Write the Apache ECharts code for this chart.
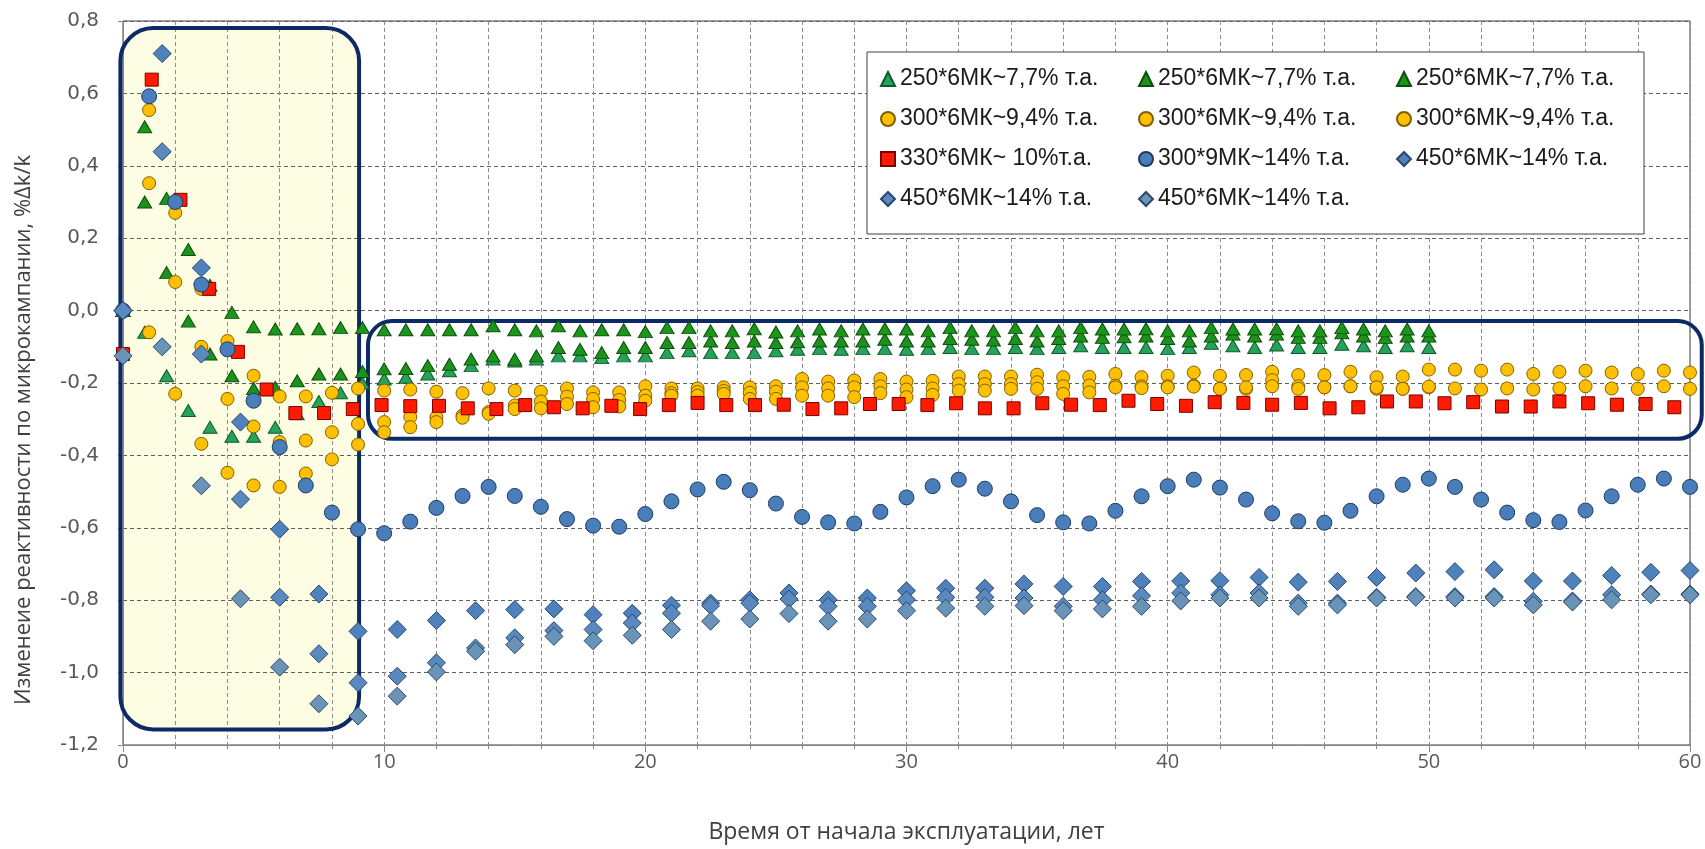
<!DOCTYPE html>
<html>
<head>
<meta charset="utf-8">
<script src="https://cdn.jsdelivr.net/npm/echarts/dist/echarts.min.js"></script>
<style>
html, body { margin: 0; padding: 0; background: #fff; }
#chart { width: 1705px; height: 849px; }
</style>
</head>
<body>
<div id="chart"></div>
<script>
// годы (ось X) для каждой группы точек
var greenYears = [0, 0.83, 1.67, 2.5, 3.33, 4.17, 5, 5.83, 6.67, 7.5, 8.33, 9.17, 10, 10.83, 11.67, 12.5, 13.33, 14.17, 15, 15.83,
	16.67, 17.5, 18.33, 19.17, 20, 20.83, 21.67, 22.5, 23.33, 24.17, 25, 25.83, 26.67, 27.5, 28.33, 29.17, 30, 30.83, 31.67, 32.5,
	33.33, 34.17, 35, 35.83, 36.67, 37.5, 38.33, 39.17, 40, 40.83, 41.67, 42.5, 43.33, 44.17, 45, 45.83, 46.67, 47.5, 48.33, 49.17, 50];
var circleYears = [0, 1, 2, 3, 4, 5, 6, 7, 8, 9, 10, 11, 12, 13, 14, 15, 16, 17, 18, 19, 20, 21, 22, 23, 24, 25, 26, 27, 28, 29, 30,
	31, 32, 33, 34, 35, 36, 37, 38, 39, 40, 41, 42, 43, 44, 45, 46, 47, 48, 49, 50, 51, 52, 53, 54, 55, 56, 57, 58, 59, 60];
var redYears = [0, 1.1, 2.2, 3.3, 4.4, 5.5, 6.6, 7.7, 8.8, 9.9, 11, 12.1, 13.2, 14.3, 15.4, 16.5, 17.6, 18.7, 19.8, 20.9, 22, 23.1,
	24.2, 25.3, 26.4, 27.5, 28.6, 29.7, 30.8, 31.9, 33, 34.1, 35.2, 36.3, 37.4, 38.5, 39.6, 40.7, 41.8, 42.9, 44, 45.1, 46.2, 47.3,
	48.4, 49.5, 50.6, 51.7, 52.8, 53.9, 55, 56.1, 57.2, 58.3, 59.4];
var diamondYears = [0, 1.5, 3, 4.5, 6, 7.5, 9, 10.5, 12, 13.5, 15, 16.5, 18, 19.5, 21, 22.5, 24, 25.5, 27, 28.5, 30, 31.5, 33,
	34.5, 36, 37.5, 39, 40.5, 42, 43.5, 45, 46.5, 48, 49.5, 51, 52.5, 54, 55.5, 57, 58.5, 60];

// 250*6МК~7,7% т.а.
var green1 = [0, -0.06, -0.18, -0.276, -0.322, -0.347, -0.347, -0.322, -0.285, -0.251, -0.227, -0.2, -0.189, -0.184, -0.175, -0.166,
	-0.152, -0.134, -0.139, -0.134, -0.125, -0.125, -0.13, -0.125, -0.125, -0.116, -0.111, -0.116, -0.116, -0.116, -0.111,
	-0.107, -0.105, -0.107, -0.105, -0.105, -0.107, -0.105, -0.102, -0.105, -0.105, -0.102, -0.105, -0.102, -0.097, -0.102,
	-0.102, -0.102, -0.105, -0.102, -0.09, -0.097, -0.102, -0.095, -0.102, -0.102, -0.093, -0.097, -0.102, -0.097, -0.102];
var green2 = [0, 0.508, 0.31, 0.169, 0.07, -0.005, -0.045, -0.051, -0.05, -0.05, -0.047, -0.047, -0.053, -0.053, -0.053, -0.053,
	-0.053, -0.042, -0.053, -0.056, -0.042, -0.056, -0.053, -0.053, -0.058, -0.047, -0.047, -0.056, -0.056, -0.05, -0.059,
	-0.056, -0.051, -0.056, -0.051, -0.05, -0.051, -0.056, -0.047, -0.056, -0.056, -0.047, -0.056, -0.056, -0.047, -0.051,
	-0.051, -0.05, -0.056, -0.056, -0.047, -0.051, -0.051, -0.05, -0.056, -0.056, -0.047, -0.051, -0.056, -0.051, -0.056];
var green3 = [0, 0.3, 0.105, -0.029, -0.12, -0.18, -0.215, -0.212, -0.194, -0.175, -0.175, -0.168, -0.161, -0.16, -0.152, -0.148,
	-0.134, -0.125, -0.134, -0.125, -0.102, -0.107, -0.116, -0.102, -0.102, -0.088, -0.088, -0.084, -0.088, -0.084, -0.088,
	-0.086, -0.084, -0.084, -0.084, -0.079, -0.084, -0.084, -0.077, -0.079, -0.081, -0.077, -0.084, -0.077, -0.07, -0.074,
	-0.072, -0.07, -0.077, -0.084, -0.07, -0.065, -0.07, -0.065, -0.074, -0.074, -0.061, -0.07, -0.074, -0.07, -0.07];

// 300*6МК~9,4% т.а.
var yellow1 = [0, 0.554, 0.27, 0.06, -0.084, -0.18, -0.237, -0.237, -0.227, -0.215, -0.221, -0.218, -0.224, -0.228, -0.215, -0.221,
	-0.224, -0.215, -0.226, -0.226, -0.209, -0.215, -0.215, -0.212, -0.212, -0.209, -0.189, -0.196, -0.193, -0.189, -0.196,
	-0.194, -0.182, -0.182, -0.182, -0.177, -0.184, -0.183, -0.175, -0.184, -0.18, -0.171, -0.18, -0.178, -0.169, -0.178,
	-0.178, -0.169, -0.184, -0.182, -0.163, -0.163, -0.166, -0.163, -0.175, -0.169, -0.166, -0.171, -0.175, -0.166, -0.171];
var yellow2 = [0, 0.352, 0.079, -0.1, -0.244, -0.32, -0.363, -0.359, -0.336, -0.313, -0.308, -0.294, -0.294, -0.29, -0.28, -0.262,
	-0.251, -0.238, -0.244, -0.247, -0.235, -0.228, -0.225, -0.222, -0.227, -0.224, -0.212, -0.215, -0.212, -0.209, -0.218,
	-0.215, -0.203, -0.203, -0.203, -0.198, -0.209, -0.207, -0.207, -0.209, -0.209, -0.207, -0.216, -0.216, -0.192, -0.209,
	-0.212, -0.209, -0.216, -0.216, -0.212, -0.215, -0.218, -0.215, -0.218, -0.215, -0.209, -0.215, -0.216, -0.209, -0.216];
var yellow3 = [0, -0.06, -0.23, -0.368, -0.448, -0.483, -0.487, -0.45, -0.411, -0.37, -0.336, -0.322, -0.308, -0.296, -0.285,
	-0.272, -0.27, -0.258, -0.267, -0.265, -0.249, -0.235, -0.235, -0.23, -0.244, -0.244, -0.235, -0.235, -0.239, -0.228,
	-0.239, -0.233, -0.221, -0.221, -0.216, -0.216, -0.23, -0.226, -0.212, -0.214, -0.212, -0.21, -0.216, -0.212, -0.209,
	-0.216, -0.212, -0.209, -0.212, -0.216, -0.21];

// 330*6МК~ 10%т.а.
var red1 = [-0.12, 0.638, 0.306, 0.06, -0.114, -0.218, -0.283, -0.283, -0.272, -0.261, -0.264, -0.263, -0.27, -0.272, -0.261,
	-0.267, -0.27, -0.263, -0.272, -0.261, -0.255, -0.261, -0.261, -0.26, -0.272, -0.27, -0.258, -0.258, -0.261, -0.256,
	-0.27, -0.27, -0.256, -0.26, -0.261, -0.249, -0.258, -0.263, -0.253, -0.255, -0.26, -0.255, -0.27, -0.267, -0.251,
	-0.251, -0.256, -0.253, -0.265, -0.265, -0.251, -0.256, -0.26, -0.258, -0.267];

// 300*9МК~14% т.а.
var blue1 = [0, 0.592, 0.3, 0.072, -0.107, -0.249, -0.377, -0.483, -0.558, -0.604, -0.615, -0.583, -0.545, -0.512, -0.487,
	-0.512, -0.542, -0.576, -0.594, -0.597, -0.562, -0.527, -0.494, -0.473, -0.496, -0.533, -0.57, -0.585, -0.588, -0.556,
	-0.516, -0.485, -0.467, -0.492, -0.527, -0.565, -0.585, -0.588, -0.553, -0.513, -0.485, -0.467, -0.489, -0.522, -0.56,
	-0.582, -0.586, -0.553, -0.513, -0.481, -0.464, -0.487, -0.522, -0.558, -0.579, -0.584, -0.552, -0.513, -0.481, -0.464, -0.487];

// 450*6МК~14% т.а.
var diamond1 = [0, 0.71, 0.118, -0.308, -0.604, -0.783, -0.886, -0.881, -0.856, -0.829, -0.826, -0.824, -0.84, -0.836, -0.814,
	-0.808, -0.799, -0.78, -0.799, -0.794, -0.774, -0.767, -0.767, -0.755, -0.762, -0.762, -0.748, -0.747, -0.746, -0.737,
	-0.75, -0.748, -0.737, -0.725, -0.721, -0.716, -0.747, -0.747, -0.732, -0.723, -0.718];
var diamond2 = [0, 0.439, -0.12, -0.521, -0.792, -0.948, -1.028, -1.01, -0.973, -0.932, -0.904, -0.884, -0.881, -0.863, -0.836,
	-0.815, -0.808, -0.797, -0.817, -0.817, -0.799, -0.792, -0.792, -0.794, -0.817, -0.799, -0.788, -0.78, -0.785, -0.78,
	-0.808, -0.808, -0.792, -0.79, -0.79, -0.79, -0.803, -0.802, -0.785, -0.783, -0.783];
var diamond3 = [-0.125, -0.1, -0.484, -0.796, -0.985, -1.086, -1.12, -1.065, -0.998, -0.941, -0.923, -0.9, -0.912, -0.897, -0.881,
	-0.858, -0.852, -0.837, -0.858, -0.852, -0.829, -0.822, -0.817, -0.815, -0.829, -0.824, -0.817, -0.802, -0.794, -0.794,
	-0.817, -0.813, -0.794, -0.792, -0.794, -0.794, -0.813, -0.805, -0.799, -0.785, -0.785];

// выделенные области (в координатах графика): [x1, x2, yTop, yBottom]
var leftBox = [-0.1, 9.04, 0.781, -1.157];
var rightBox = [9.38, 60.45, -0.029, -0.354];

function pairs(xs, ys) {
	var out = [];
	for (var i = 0; i < ys.length; i++) {
		out.push([xs[i], ys[i]]);
	}
	return out;
}

function scatter(name, xs, ys, symbol, size, fill, border) {
	return {
		name: name,
		type: 'scatter',
		symbol: symbol,
		symbolSize: size,
		data: pairs(xs, ys),
		itemStyle: {
			color: fill,
			borderColor: border,
			borderWidth: 1,
			opacity: 1
		},
		emphasis: { disabled: true }
	};
}

var chart = echarts.init(document.getElementById('chart'));

var option = {
	animation: false,
	grid: {
		left: 123,
		right: 15,
		top: 21,
		bottom: 102,
		show: true,
		borderColor: '#404040',
		borderWidth: 1
	},
	legend: {
		left: 867,
		top: 52,
		width: 780,
		orient: 'horizontal',
		padding: [12, 0, 20, 13],
		itemGap: 10,
		itemWidth: 14,
		itemHeight: 14,
		backgroundColor: '#ffffff',
		borderColor: '#404040',
		borderWidth: 1,
		selectedMode: false,
		textStyle: {
			fontFamily: 'Liberation Sans',
			fontSize: 23,
			color: '#1a1a1a',
			width: 228,
			lineHeight: 30
		}
	},
	xAxis: {
		type: 'value',
		min: 0,
		max: 60,
		interval: 10,
		name: 'Время от начала эксплуатации, лет',
		nameLocation: 'middle',
		nameGap: 76,
		nameTextStyle: { fontFamily: 'Open Sans', fontSize: 23, color: '#404040' },
		axisLine: { onZero: false, lineStyle: { color: '#868686', width: 1 } },
		axisTick: { show: true, length: 7, lineStyle: { color: '#868686' } },
		minorTick: { show: true, splitNumber: 5, length: 4, lineStyle: { color: '#868686' } },
		axisLabel: { margin: 7, fontFamily: 'Open Sans', fontSize: 20, color: '#595959' },
		splitLine: { show: true, lineStyle: { color: '#8c8c8c', type: [4, 3], width: 1 } },
		minorSplitLine: { show: true, lineStyle: { color: '#8c8c8c', type: [4, 3], width: 1 } }
	},
	yAxis: {
		type: 'value',
		min: -1.2,
		max: 0.8,
		interval: 0.2,
		name: 'Изменеие реактивности по микрокампании, %Δk/k',
		nameLocation: 'middle',
		nameGap: 88,
		nameTextStyle: { fontFamily: 'Open Sans', fontSize: 22, color: '#404040', padding: [0, 94, 0, 0] },
		axisLine: { show: true, onZero: false, lineStyle: { color: '#868686', width: 1 } },
		axisTick: { show: true, length: 5, lineStyle: { color: '#868686' } },
		axisLabel: {
			margin: 24,
			fontFamily: 'DejaVu Sans',
			fontSize: 20,
			color: '#595959',
			formatter: function(v) {
				return v.toFixed(1).replace('.', ',');
			}
		},
		splitLine: { show: true, lineStyle: { color: '#5f5f5f', type: [4, 3], width: 1 } }
	},
	series: [
		scatter('250*6МК~7,7% т.а.', greenYears, green1, 'triangle', [14, 12], '#25a35a', '#0e5a2a'),
		scatter('250*6МК~7,7% т.а. ', greenYears, green3, 'triangle', [14, 12], '#1c921c', '#0b4f0b'),
		scatter('250*6МК~7,7% т.а.  ', greenYears, green2, 'triangle', [14, 12], '#1a961a', '#0b4f0b'),
		scatter('300*6МК~9,4% т.а.', circleYears, yellow1, 'circle', 13, '#ffc000', '#7f6000'),
		scatter('300*6МК~9,4% т.а. ', circleYears, yellow2, 'circle', 13, '#ffc000', '#7f6000'),
		scatter('300*6МК~9,4% т.а.  ', circleYears, yellow3, 'circle', 13, '#ffc000', '#7f6000'),
		scatter('330*6МК~ 10%т.а.', redYears, red1, 'rect', 13, '#ff1a00', '#7a0000'),
		scatter('300*9МК~14% т.а.', circleYears, blue1, 'circle', 15, '#4a7ebb', '#1f3a5f'),
		scatter('450*6МК~14% т.а.', diamondYears, diamond1, 'diamond', [18, 18], '#4f81bd', '#284870'),
		scatter('450*6МК~14% т.а. ', diamondYears, diamond2, 'diamond', [18, 18], '#5a89bf', '#284870'),
		scatter('450*6МК~14% т.а.  ', diamondYears, diamond3, 'diamond', [18, 18], '#6a93b8', '#2c4a6a')
	]
};

chart.setOption(option);

// рамки выделенных областей
function boxRect(b) {
	var a = chart.convertToPixel({ gridIndex: 0 }, [b[0], b[2]]);
	var c = chart.convertToPixel({ gridIndex: 0 }, [b[1], b[3]]);
	return { x: a[0], y: a[1], width: c[0] - a[0], height: c[1] - a[1] };
}

var lr = boxRect(leftBox);
var rr = boxRect(rightBox);

chart.setOption({
	graphic: [{
		type: 'rect',
		z: -1,
		silent: true,
		shape: { x: lr.x, y: lr.y, width: lr.width, height: lr.height, r: 33 },
		style: { fill: '#fdfde3', stroke: null }
	}, {
		type: 'rect',
		z: 1,
		silent: true,
		shape: { x: lr.x, y: lr.y, width: lr.width, height: lr.height, r: 33 },
		style: { fill: null, stroke: '#0b2a66', lineWidth: 4 }
	}, {
		type: 'rect',
		z: 1,
		silent: true,
		shape: { x: rr.x, y: rr.y, width: rr.width, height: rr.height, r: 24 },
		style: { fill: null, stroke: '#0b2a66', lineWidth: 4 }
	}]
});
</script>
</body>
</html>
